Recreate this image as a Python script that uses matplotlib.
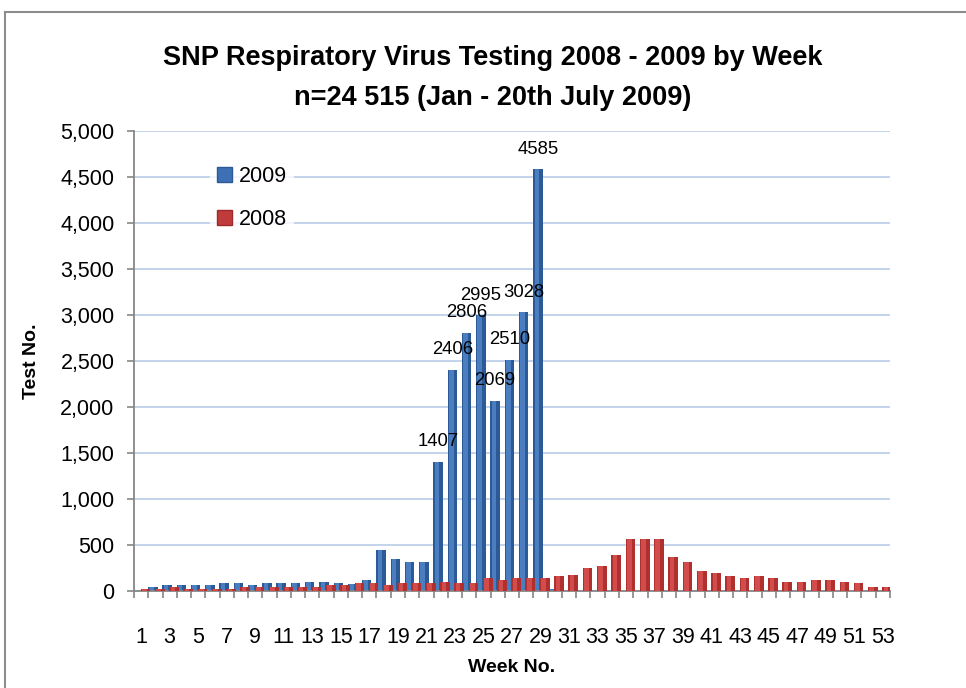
import matplotlib
matplotlib.use("Agg")
import matplotlib.pyplot as plt
import numpy as np
from matplotlib.patches import Patch
from matplotlib.lines import Line2D
from matplotlib.ticker import FuncFormatter

plt.rcParams['font.family'] = ['Liberation Sans', 'DejaVu Sans']

# weekly test counts
weeks = np.arange(1, 54)
tests_2009 = [40, 65, 65, 65, 65, 87, 87, 65, 83, 83,
              83, 98, 98, 83, 75, 120, 446, 344, 315, 315,
              1407, 2406, 2806, 2995, 2069, 2510, 3028, 4585, 27]
tests_2008 = [25, 22, 43, 22, 22, 18, 22, 43, 40, 40,
              40, 40, 40, 65, 65, 83, 85, 65, 87, 87,
              87, 98, 87, 87, 141, 120, 141, 141, 141, 163,
              174, 250, 272, 391, 565, 565, 565, 370, 315, 217,
              196, 163, 141, 163, 141, 98, 98, 120, 120, 98,
              87, 43, 43]
labelled_weeks = [21, 22, 23, 24, 25, 26, 27, 28]

title1 = "SNP Respiratory Virus Testing 2008 - 2009 by Week"
title2 = "n=24 515 (Jan - 20th July 2009)"

W, H = 966, 688
fig = plt.figure(figsize=(W / 100, H / 100), dpi=100)
ax = fig.add_axes([134 / W, 97 / H, 756 / W, 460 / H])

wk09 = weeks[:len(tests_2009)]
# 2009 row sits behind, 2008 in front (fake 3d depth by offset)
ax.bar(wk09 + 0.82, tests_2009, width=0.66, color='#2C5A96', zorder=2)
ax.bar(wk09 + 0.74, tests_2009, width=0.32, color='#4A7EC0', zorder=2.1)
ax.bar(weeks + 0.3, tests_2008, width=0.68, color='#B03030', zorder=3)
ax.bar(weeks + 0.22, tests_2008, width=0.32, color='#D24C4C', zorder=3.1)

for w in labelled_weeks:
    v = tests_2009[w - 1]
    ax.annotate(str(v), (w + 0.82, v), xytext=(0, 14.5), textcoords='offset points',
                ha='center', va='center', fontsize=13.3, color='black', zorder=5)

ax.set_xlim(0.5, 53.5)
ax.set_ylim(0, 5000)
ax.set_yticks(np.arange(0, 5001, 500))
ax.yaxis.set_major_formatter(FuncFormatter(lambda v, p: f"{v:,.0f}"))
ax.yaxis.grid(True, color='#B7CCE8', lw=1.2)
ax.set_axisbelow(True)

ax.set_xticks(weeks[::2])
ax.set_xticklabels([str(w) for w in weeks[::2]])
ax.set_xticks(np.arange(0.5, 54, 1), minor=True)
ax.tick_params(axis='x', which='major', length=0, pad=26, labelsize=15.5)
ax.tick_params(axis='x', which='minor', length=5, width=1.2, color='#868686', direction='out')
ax.tick_params(axis='y', length=5, width=1.2, color='#868686', direction='out', pad=9, labelsize=15.5)

for s in ['top', 'right']:
    ax.spines[s].set_visible(False)
for s in ['left', 'bottom']:
    ax.spines[s].set_color('#868686')
    ax.spines[s].set_linewidth(1.3)

handles = [Patch(facecolor='#3D70B4', edgecolor='#2C5A96'),
           Patch(facecolor='#C03C3C', edgecolor='#A02828')]
fig.legend(handles, ['2009', '2008'], loc='center', bbox_to_anchor=(252 / W, 1 - 198 / H),
           frameon=True, facecolor='white', edgecolor='none', fancybox=False,
           fontsize=15.5, handlelength=0.7, handleheight=0.7, handletextpad=0.35,
           labelspacing=1.0, borderpad=0.3)

fig.text(0.51, 1 - 58 / H, title1, ha='center', va='center', fontsize=19.5, fontweight='bold')
fig.text(0.51, 1 - 98 / H, title2, ha='center', va='center', fontsize=19.5, fontweight='bold')
fig.text(32 / W, 1 - 361 / H, "Test No.", rotation=90, ha='center', va='center',
         fontsize=14, fontweight='bold')
fig.text(512 / W, 1 - 668 / H, "Week No.", ha='center', va='center',
         fontsize=14, fontweight='bold')

# outer chart frame (cropped at right and bottom)
fig.add_artist(Line2D([5 / W, 5 / W], [0, 1 - 12 / H], transform=fig.transFigure,
                      color='#8C8C8C', lw=1.5))
fig.add_artist(Line2D([5 / W, 1], [1 - 12 / H, 1 - 12 / H], transform=fig.transFigure,
                      color='#8C8C8C', lw=1.5))

fig.savefig('out.png', dpi=100)
plt.close(fig)
